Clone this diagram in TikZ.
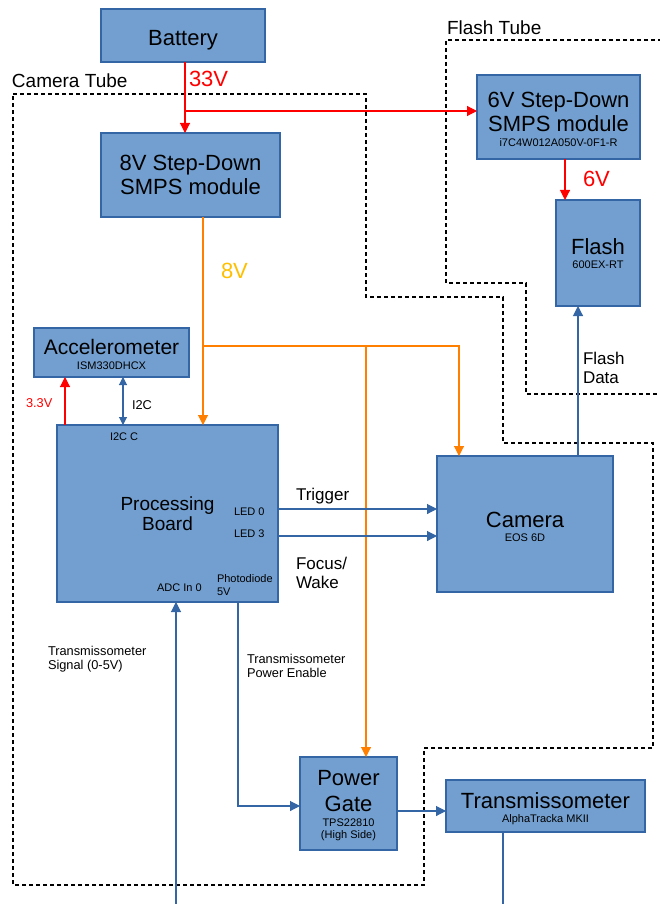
\documentclass[tikz,border=0pt]{standalone}
\usepackage{fontspec}
\setmainfont{Liberation Sans}
\usetikzlibrary{arrows.meta}
\definecolor{boxfill}{HTML}{729FCF}
\definecolor{boxline}{HTML}{3465A4}
\definecolor{pwrred}{HTML}{FF0000}
\definecolor{pwrorange}{HTML}{FF8000}
\definecolor{lblorange}{HTML}{FFBF00}
\definecolor{sigblue}{HTML}{3465A4}
\newcommand{\FBig}{\fontsize{22}{24}\selectfont}
\newcommand{\FAcc}{\fontsize{21}{23}\selectfont}
\newcommand{\FMid}{\fontsize{19}{20.5}\selectfont}
\newcommand{\FLab}{\fontsize{17}{18.5}\selectfont}
\newcommand{\FNote}{\fontsize{12.8}{13.8}\selectfont}
\newcommand{\FSmall}{\fontsize{11}{12.5}\selectfont}
\newcommand{\Lift}[1]{\rule{0pt}{#1}}
\begin{document}
\begin{tikzpicture}[x=1pt,y=-1pt,
  blockbox/.style={draw=boxline,fill=boxfill,line width=1.1pt,inner sep=0pt,outer sep=0pt,align=center,font=\FBig},
  arrowed/.style={-{Triangle[length=10pt,width=10pt]}},
  redline/.style={draw=pwrred,line width=1.1pt},
  orangeline/.style={draw=pwrorange,line width=1.1pt},
  blueline/.style={draw=sigblue,line width=1.1pt},
  tube/.style={draw=black,line width=1.1pt,dash pattern=on 4pt off 3pt},
  lbl/.style={inner sep=0pt,outer sep=0pt,anchor=base west},
  mlbl/.style={inner sep=0pt,outer sep=0pt,anchor=north west,align=left}
]
\useasboundingbox (0,0) rectangle (660,904);

% dashed enclosures
\draw[tube] (13,94) -- (366,94) -- (366,297) -- (503,297) -- (503,443) -- (653,443)
  -- (653,748) -- (424,748) -- (424,885) -- (13,885) -- cycle;
\draw[tube] (662,40) -- (446,40) -- (446,283) -- (526,283) -- (526,394) -- (662,394);
\node[lbl,font=\FMid] (camtubelbl) at (12,88) {Camera Tube};
\node[lbl,font=\FMid] (flashtubelbl) at (447,35) {Flash Tube};

% boxes
\node[blockbox,text height=24pt,minimum width=164,minimum height=53] (battery) at (183,35.5) {Battery};
\node[blockbox,minimum width=179,minimum height=84] (smps8) at (190.5,175) {8V Step-Down\\SMPS module};
\node[blockbox,minimum width=163,minimum height=84] (smps6) at (558.5,117) {\Lift{20pt}6V Step-Down\\SMPS module\\[-9pt]{\FSmall i7C4W012A050V-0F1-R}};
\node[blockbox,minimum width=84,minimum height=106] (flash) at (598,253) {\Lift{18pt}Flash\\[-10pt]{\FSmall 600EX-RT}};
\node[blockbox,font=\FAcc,minimum width=155,minimum height=49] (accel) at (111.5,352.5) {\Lift{19.3pt}Accelerometer\\[-8pt]{\FSmall ISM330DHCX}};
\node[blockbox,font=\FMid,minimum width=221,minimum height=177] (proc) at (167.5,513.5) {Processing\\Board};
\node[blockbox,minimum width=176,minimum height=136] (camera) at (525,524) {\Lift{22pt}Camera\\[-10pt]{\FSmall EOS 6D}};
\node[blockbox,minimum width=97,minimum height=93] (gate) at (348.5,803.5) {\Lift{20pt}Power\\[2pt]Gate\\[-9pt]{\FSmall TPS22810}\\[-12pt]{\FSmall (High Side)}};
\node[blockbox,minimum width=199,minimum height=52] (trans) at (545.5,806) {\Lift{22pt}Transmissometer\\[-10pt]{\FSmall AlphaTracka MKII}};

% labels inside processing board
\node[lbl,font=\FSmall] (i2cc) at (110,440) {I2C C};
\node[lbl,font=\FSmall] (led0) at (234,515) {LED 0};
\node[lbl,font=\FSmall] (led3) at (234,537) {LED 3};
\node[lbl,font=\FSmall] (adc) at (157,591) {ADC In 0};
\node[mlbl,font=\FSmall] (photo) at (217,575) {Photodiode\\5V};

% power lines
\coordinate (j33) at (185,111);
\draw[redline,arrowed] (battery.south -| j33) -- (smps8.north -| j33);
\draw[redline,arrowed] (j33) -- (smps6.west |- j33);
\draw[redline,arrowed] (smps6.south -| 565,0) -- (flash.north -| 565,0);
\node[lbl,font=\FBig,text=pwrred] (v33) at (189,87) {33V};
\node[lbl,font=\FBig,text=pwrred] (v6) at (583,186) {6V};

\coordinate (j8) at (203,346);
\coordinate (j8b) at (366,346);
\coordinate (j8c) at (459,346);
\draw[orangeline,arrowed] (smps8.south -| j8) -- (proc.north -| j8);
\draw[orangeline,arrowed] (j8) -- (j8c) -- (camera.north -| j8c);
\draw[orangeline,arrowed] (j8b) -- (gate.north -| j8b);
\node[lbl,font=\FBig,text=lblorange] (v8) at (221,278) {8V};

\draw[redline,arrowed] (proc.north -| 65,0) -- (accel.south -| 65,0);
\node[lbl,font=\FNote,text=pwrred] (v3) at (26,407) {3.3V};

% signal lines
\draw[blueline,{Triangle[length=8pt,width=8pt]}-{Triangle[length=8pt,width=8pt]}] (proc.north -| 123,0) -- (accel.south -| 123,0);
\node[lbl,font=\FNote] (i2c) at (132,409) {I2C};

\draw[blueline,arrowed] (proc.east |- 0,509) -- (camera.west |- 0,509);
\draw[blueline,arrowed] (proc.east |- 0,536) -- (camera.west |- 0,536);
\node[lbl,font=\FLab] (trig) at (296,500) {Trigger};
\node[mlbl,font=\FLab] (focus) at (296,557.5) {Focus/\\Wake};

\draw[blueline,arrowed] (camera.north -| 578,0) -- (flash.south -| 578,0);
\node[mlbl,font=\FLab] (fdata) at (583,352.5) {Flash\\Data};

\coordinate (sigsrc) at (176,904);
\draw[blueline,arrowed] (sigsrc) -- (proc.south -| sigsrc);
\node[mlbl,font=\FNote] (sig) at (48,646) {Transmissometer\\Signal (0-5V)};

\draw[blueline,arrowed] (proc.south -| 238,0) |- (gate.west |- 0,806);
\node[mlbl,font=\FNote] (pwren) at (247,654) {Transmissometer\\Power Enable};

\draw[blueline,arrowed] (gate.east |- 0,811) -- (trans.west |- 0,811);
\coordinate (transout) at (503,904);
\draw[blueline] (trans.south -| transout) -- (transout);
\end{tikzpicture}
\end{document}
